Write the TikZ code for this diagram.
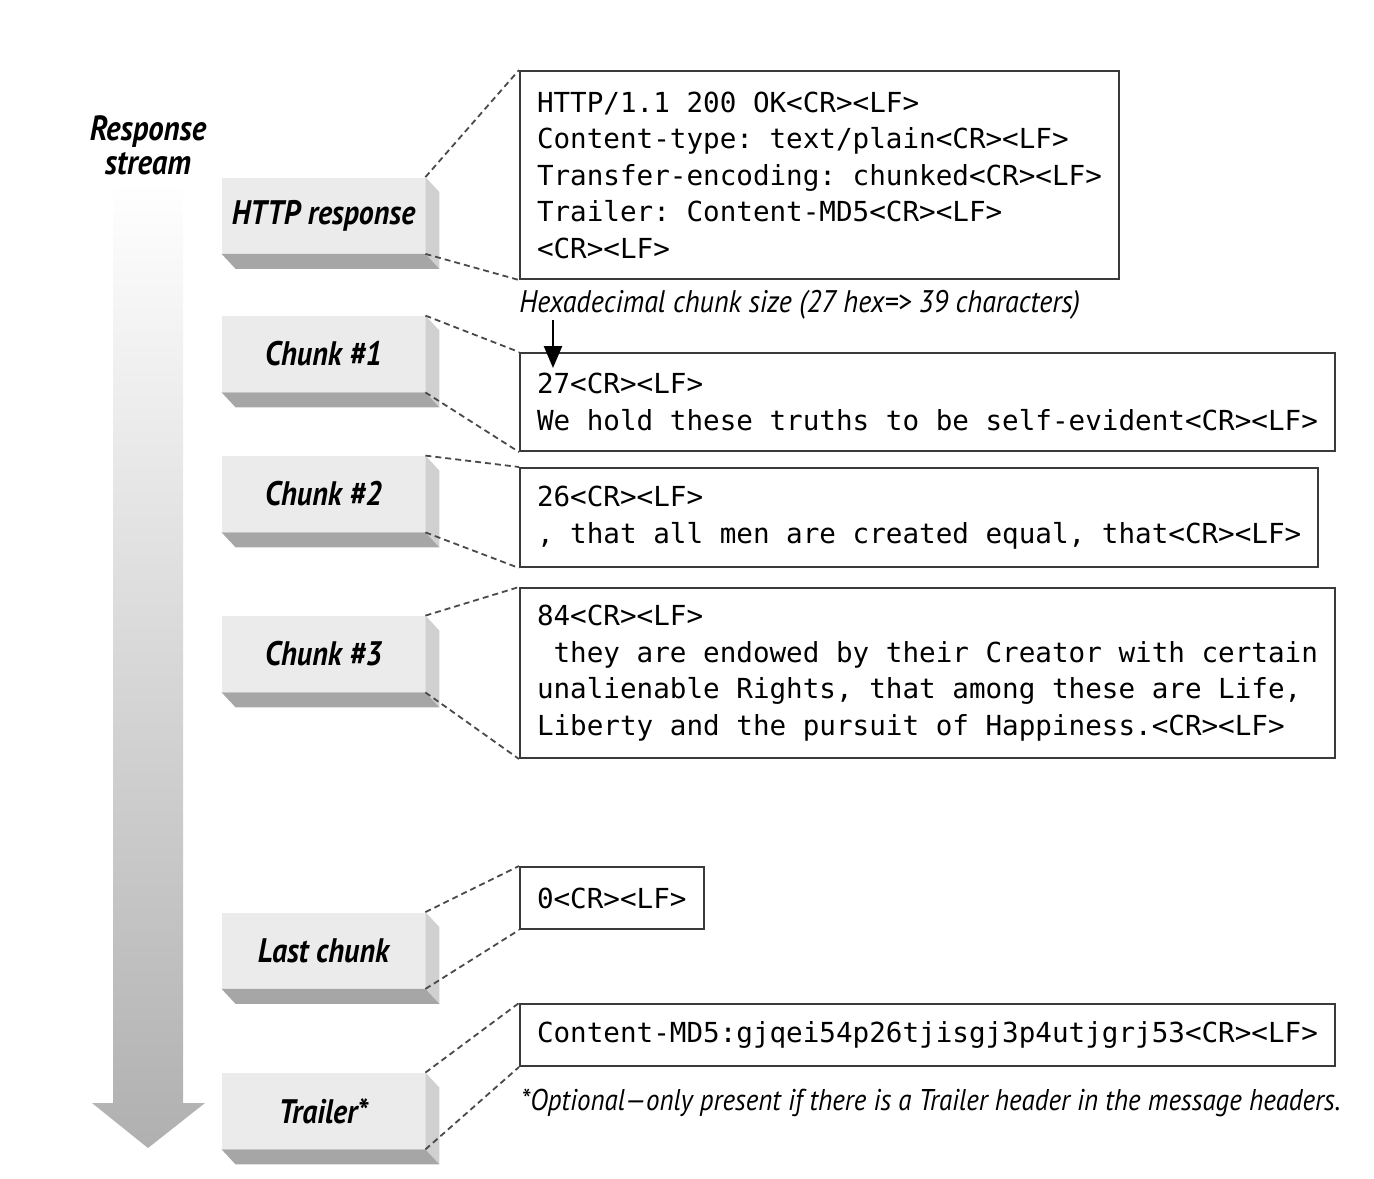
\documentclass[tikz,border=0pt]{standalone}
\usepackage{fontspec}
\setmonofont{DejaVu Sans Mono}
\newfontfamily\slabfont{PT Sans}[FakeStretch=0.88]
\newfontfamily\notefont{PT Sans}[FakeStretch=0.9]
\usetikzlibrary{arrows.meta}
\definecolor{slabfront}{HTML}{EBEBEB}
\definecolor{slabside}{HTML}{D0D0D0}
\definecolor{slabbottom}{HTML}{A6A6A6}
\definecolor{boxline}{HTML}{3A3A3A}
\definecolor{zoomgray}{HTML}{4A4A4A}

\begin{document}
\begin{tikzpicture}[x=0.5pt, y=-0.5pt,
    slab/.style={fill=slabfront, minimum width=101.5pt, minimum height=38pt, inner sep=0pt,
      font=\slabfont\bfseries\itshape\fontsize{17pt}{17pt}\selectfont},
    streamlabel/.style={align=center, inner sep=0pt,
      font=\slabfont\bfseries\itshape\fontsize{17.5pt}{17pt}\selectfont},
    msgbox/.style={draw=boxline, line width=1pt, anchor=north west, align=left,
      inner xsep=8.5pt, inner ysep=0pt, font=\ttfamily\fontsize{13.8pt}{18.25pt}\selectfont},
    note/.style={anchor=west, inner sep=0pt, font=\notefont\itshape\fontsize{15pt}{15pt}\selectfont},
    zoomline/.style={draw=zoomgray, line width=0.9pt, dash pattern=on 3pt off 2pt},
    sizearrow/.style={line width=1.2pt, -{Triangle[length=11pt,width=9pt]}}]

    \useasboundingbox (0,0) rectangle (1374,1178);

    \shade[top color=white, bottom color=gray!62]
      (113,180) -- (183,180) -- (183,1103) -- (205,1103)
      -- (148,1148) -- (92,1103) -- (113,1103) -- cycle;
    \node[streamlabel] (stream) at (148,145) {Response\\stream};

    \foreach \name/\y/\txt in {http/215.5/HTTP response, chunka/354/Chunk \#1,
        chunkb/494/Chunk \#2, chunkc/654/Chunk \#3, last/950.5/Last chunk, trailer/1111/Trailer*} {
      \node[slab] (\name) at (323.5,\y) {\txt};
      \fill[slabside] (\name.north east) -- ([shift={(14,15)}]\name.north east)
        -- ([shift={(14,15)}]\name.south east) -- (\name.south east) -- cycle;
      \fill[slabbottom] (\name.south west) -- (\name.south east)
        -- ([shift={(14,15)}]\name.south east) -- ([shift={(14,15)}]\name.south west) -- cycle;
    }

    \node[msgbox, minimum height=104pt] (httpmsg) at (519,70)
      {HTTP/1.1 200 OK<CR><LF>\\Content-type: text/plain<CR><LF>\\Transfer-encoding: chunked<CR><LF>\\Trailer: Content-MD5<CR><LF>\\<CR><LF>};
    \node[msgbox, minimum height=49pt] (chunkamsg) at (519,352)
      {27<CR><LF>\\We hold these truths to be self-evident<CR><LF>};
    \node[msgbox, minimum height=49.5pt] (chunkbmsg) at (519,467)
      {26<CR><LF>\\, that all men are created equal, that<CR><LF>};
    \node[msgbox, minimum height=85pt] (chunkcmsg) at (519,587)
      {84<CR><LF>\\\mbox{}\ they are endowed by their Creator with certain\\unalienable Rights, that among these are Life,\\Liberty and the pursuit of Happiness.<CR><LF>};
    \node[msgbox, minimum height=31pt] (lastmsg) at (519,866) {0<CR><LF>};
    \node[msgbox, minimum height=31pt] (trailermsg) at (519,1003)
      {Content-MD5:gjqei54p26tjisgj3p4utjgrj53<CR><LF>};

    \foreach \a/\b in {http/httpmsg, chunka/chunkamsg, chunkb/chunkbmsg,
        chunkc/chunkcmsg, last/lastmsg, trailer/trailermsg} {
      \draw[zoomline] (\a.north east) -- (\b.north west);
      \draw[zoomline] (\a.south east) -- (\b.south west);
    }

    \node[note, font=\notefont\itshape\fontsize{15.6pt}{15.6pt}\selectfont] (hexnote) at (519,305)
      {Hexadecimal chunk size (27 hex=> 39 characters)};
    \coordinate (sizetip) at (553,368);
    \draw[sizearrow] (hexnote.south west -| sizetip) -- (sizetip);

    \node[note] (optnote) at (521,1103) {*Optional—only present if there is a Trailer header in the message headers.};

  \end{tikzpicture}
\end{document}
